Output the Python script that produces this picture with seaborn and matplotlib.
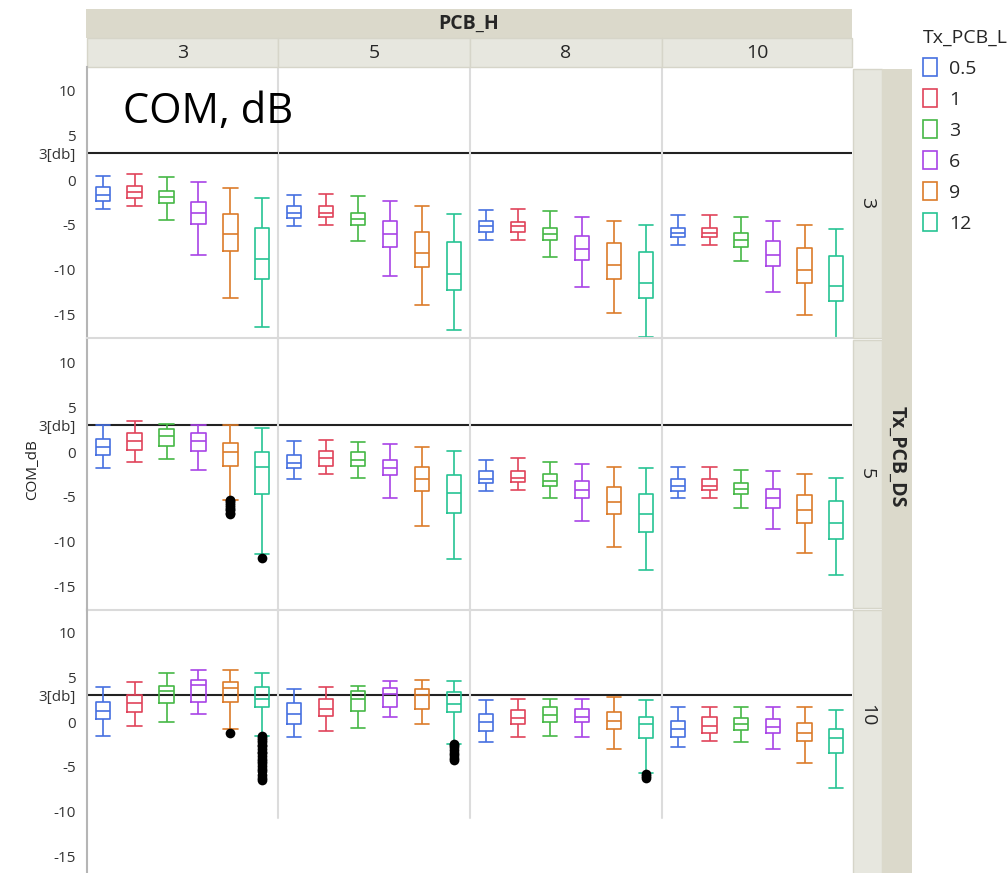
import numpy as np
import pandas as pd
import seaborn as sns
import matplotlib.pyplot as plt
from matplotlib.patches import Rectangle

# Facet levels
pcb_h = ["3", "5", "8", "10"]
tx_pcb_ds = ["3", "5", "10"]
tx_pcb_l = ["0.5", "1", "3", "6", "9", "12"]
colors = ["#4670E0", "#E0435A", "#46B846", "#A843E6", "#DC7B2A", "#26C493"]

# Box summaries, per Tx_PCB_DS row.
# Each list: PCB_H 3,5,8,10 (6 Tx_PCB_L values each)
ds3_hi = [0.45, 0.71, 0.30, -0.22, -0.93, -2.0,
          -1.71, -1.60, -1.82, -2.30, -2.90, -3.79,
          -3.34, -3.19, -3.49, -4.09, -4.57, -5.01,
          -3.94, -3.94, -4.09, -4.57, -5.01, -5.46]
ds3_q3 = [-0.78, -0.63, -1.23, -2.45, -3.79, -5.35,
          -2.90, -2.86, -3.68, -4.57, -5.76, -6.95,
          -4.57, -4.72, -5.31, -6.20, -6.98, -8.02,
          -5.31, -5.31, -5.91, -6.80, -7.58, -8.47]
ds3_med = [-1.67, -1.37, -1.93, -3.64, -6.05, -8.77,
           -3.68, -3.68, -4.38, -6.05, -8.14, -10.44,
           -5.16, -5.16, -6.05, -7.73, -9.51, -11.48,
           -5.91, -5.85, -6.65, -8.32, -9.99, -11.78]
ds3_q1 = [-2.30, -2.00, -2.56, -4.87, -7.88, -11.03,
          -4.27, -4.12, -5.01, -7.43, -9.70, -12.22,
          -5.76, -5.76, -6.65, -8.92, -11.03, -13.15,
          -6.35, -6.35, -7.43, -9.55, -11.48, -13.45]
ds3_lo = [-3.19, -2.90, -4.42, -8.32, -13.11, -16.42,
          -5.16, -5.01, -6.84, -10.74, -13.89, -16.75,
          -6.65, -6.65, -8.62, -11.92, -14.78, -17.50,
          -7.28, -7.28, -9.06, -12.52, -15.08, -17.57]

ds5_hi = [2.97, 3.45, 3.15, 2.97, 2.97, 2.72,
          1.18, 1.37, 1.07, 0.89, 0.59, 0.14,
          -0.90, -0.64, -1.08, -1.38, -1.68, -1.82,
          -1.68, -1.68, -1.97, -2.12, -2.42, -2.86]
ds5_q3 = [1.48, 2.11, 2.52, 2.07, 1.04, 0.0,
          -0.34, 0.14, -0.04, -0.93, -1.68, -2.60,
          -2.16, -2.12, -2.46, -3.20, -3.94, -4.72,
          -3.05, -3.05, -3.50, -4.09, -4.83, -5.46]
ds5_med = [0.59, 1.22, 1.78, 1.18, 0.0, -1.68,
           -1.23, -0.71, -0.90, -1.82, -3.01, -4.54,
           -3.05, -2.90, -3.20, -4.24, -5.61, -6.95,
           -3.79, -3.79, -4.09, -5.13, -6.51, -7.88]
ds5_q1 = [-0.38, 0.26, 0.70, 0.07, -1.56, -4.72,
          -1.82, -1.56, -1.56, -2.60, -4.39, -6.80,
          -3.50, -3.35, -3.79, -5.13, -6.95, -8.88,
          -4.39, -4.24, -4.68, -6.21, -7.88, -9.70]
ds5_lo = [-1.82, -1.08, -0.78, -1.97, -5.32, -11.41,
          -3.01, -2.42, -2.86, -5.13, -8.29, -11.93,
          -4.39, -4.24, -5.13, -7.69, -10.55, -13.12,
          -5.13, -5.13, -6.21, -8.62, -11.30, -13.75]

ds10_hi = [3.93, 4.41, 5.45, 5.75, 5.75, 5.45,
           3.63, 3.93, 4.07, 4.56, 4.71, 4.56,
           2.44, 2.59, 2.59, 2.59, 2.74, 2.44,
           1.66, 1.66, 1.66, 1.66, 1.66, 1.36]
ds10_q3 = [2.25, 3.03, 4.07, 4.71, 4.41, 3.93,
           2.14, 2.55, 3.44, 3.78, 3.63, 3.33,
           0.92, 1.36, 1.66, 1.51, 1.07, 0.62,
           0.17, 0.62, 0.47, 0.32, -0.12, -0.72]
ds10_med = [1.25, 2.14, 3.48, 4.11, 3.81, 2.55,
            0.92, 1.47, 2.55, 3.18, 3.03, 1.99,
            0.03, 0.47, 0.77, 0.62, 0.17, -0.27,
            -0.72, -0.42, -0.27, -0.57, -1.20, -1.79]
ds10_q1 = [0.36, 1.07, 2.14, 2.29, 2.29, 1.73,
           -0.16, 0.73, 1.18, 1.66, 1.47, 1.07,
           -1.01, -0.27, 0.03, 0.03, -0.75, -1.79,
           -1.65, -1.20, -0.90, -1.20, -2.09, -3.47]
ds10_lo = [-1.50, -0.46, 0.03, 0.92, -0.75, -1.50,
           -1.68, -1.05, -0.61, 0.62, -0.16, -2.39,
           -2.24, -1.65, -1.50, -1.65, -2.98, -5.73,
           -2.83, -2.09, -2.24, -2.98, -4.51, -7.37]

# Outlier points (Tx_PCB_DS, PCB_H, Tx_PCB_L)
out_ds5_h3_l9 = [-5.3, -5.5, -5.7, -5.9, -6.1, -6.3, -6.5, -6.8, -6.95]
out_ds5_h3_l12 = [-11.75]
out_ds10_h3_l9 = [-1.2]
out_ds10_h3_l12 = [-1.6, -1.8, -2.0, -2.2, -2.5, -2.7, -3.0, -3.3, -3.5, -3.8,
                   -4.1, -4.3, -4.6, -4.9, -5.2, -5.5, -5.9, -6.2, -6.5]
out_ds10_h5_l12 = [-2.4, -2.6, -2.8, -3.1, -3.4, -3.7, -4.0, -4.2]
out_ds10_h8_l12 = [-5.8, -6.0, -6.2]

stats = {
    "3": (ds3_lo, ds3_q1, ds3_med, ds3_q3, ds3_hi),
    "5": (ds5_lo, ds5_q1, ds5_med, ds5_q3, ds5_hi),
    "10": (ds10_lo, ds10_q1, ds10_med, ds10_q3, ds10_hi),
}
rows = []
for ds, arrs in stats.items():
    for i, vals in enumerate(zip(*arrs)):
        for v in vals:
            rows.append((ds, pcb_h[i // 6], tx_pcb_l[i % 6], v))
df = pd.DataFrame(rows, columns=["Tx_PCB_DS", "PCB_H", "Tx_PCB_L", "COM_dB"])

outliers = [("5", "3", "9", out_ds5_h3_l9), ("5", "3", "12", out_ds5_h3_l12),
            ("10", "3", "9", out_ds10_h3_l9), ("10", "3", "12", out_ds10_h3_l12),
            ("10", "5", "12", out_ds10_h5_l12), ("10", "8", "12", out_ds10_h8_l12)]
out_df = pd.DataFrame([(ds, h, l, v) for ds, h, l, vs in outliers for v in vs],
                      columns=["Tx_PCB_DS", "PCB_H", "Tx_PCB_L", "COM_dB"])

sns.set_style("white")
plt.rcParams["font.family"] = ["Open Sans", "DejaVu Sans"]

W, H = 1008, 873
fig = plt.figure(figsize=(W / 100, H / 100), dpi=100)

col_x = [87, 278, 470, 662, 852]
row_y = [67, 339, 609]
row_h = 271
strip_dark = "#dbd9cb"
strip_light = "#e7e7df"


def add_rect(x0, y0, x1, y1, color, edge="none"):
    fig.add_artist(Rectangle((x0 / W, 1 - y1 / H), (x1 - x0) / W, (y1 - y0) / H,
                             transform=fig.transFigure, facecolor=color,
                             edgecolor=edge, lw=1))


pal = dict(zip(tx_pcb_l, colors))
legend_ax = None
for r, ds in enumerate(tx_pcb_ds):
    for c, h in enumerate(pcb_h):
        ax = fig.add_axes([col_x[c] / W, 1 - (row_y[r] + row_h) / H,
                           (col_x[c + 1] - col_x[c]) / W, row_h / H])
        ax.set_facecolor("none")
        sub = df[(df.Tx_PCB_DS == ds) & (df.PCB_H == h)]
        show_leg = (r == 0 and c == 0)
        sns.boxplot(data=sub, x="Tx_PCB_L", y="COM_dB", hue="Tx_PCB_L",
                    order=tx_pcb_l, hue_order=tx_pcb_l, palette=pal,
                    fill=False, width=0.46, whis=np.inf, showfliers=False,
                    linewidth=1.2, capwidths=0.46, legend=show_leg, ax=ax)
        osub = out_df[(out_df.Tx_PCB_DS == ds) & (out_df.PCB_H == h)]
        if len(osub):
            sns.stripplot(data=osub, x="Tx_PCB_L", y="COM_dB", order=tx_pcb_l,
                          jitter=False, color="black", size=7, ax=ax, zorder=5)
        if show_leg:
            legend_ax = ax
        ax.axhline(3, color="#222222", lw=1.5, zorder=1)
        ax.set_xlim(-0.5, 5.5)
        ax.set_ylim(-17.6, 12.6)
        ax.set_xlabel("")
        ax.set_ylabel("")
        ax.set_xticks([])
        for s in ["top", "right"]:
            ax.spines[s].set_visible(False)
        ax.spines["bottom"].set_color("#dadada")
        ax.spines["bottom"].set_linewidth(1.5)
        if c == 0:
            ax.spines["left"].set_color("#b5b5b5")
            ax.spines["left"].set_linewidth(1.5)
            ax.set_yticks([-15, -10, -5, 0, 3, 5, 10])
            ax.set_yticklabels(["-15", "-10", "-5", "0", "3[db]", "5", "10"])
            ax.tick_params(axis="y", length=6, width=1, color="#9a9a9a",
                           labelcolor="#333333", labelsize=11, pad=2)
        else:
            ax.spines["left"].set_color("#dcdcdc")
            ax.spines["left"].set_linewidth(1.5)
            ax.set_yticks([])
            if r == 2:
                ax.spines["left"].set_visible(False)
                ax.plot([0, 0], [(880 - 818) / row_h, 1], transform=ax.transAxes,
                        color="#dcdcdc", lw=1.5, clip_on=False)
        if r == 0 and c == 0:
            ax.set_zorder(5)
            ax.text(0.64, 7.6, "COM, dB", fontsize=30, va="center", ha="left",
                    color="black", zorder=10)

sns.move_legend(legend_ax, "upper left", bbox_to_anchor=(905 / W, 1 - 11 / H),
                bbox_transform=fig.transFigure, frameon=False, title="Tx_PCB_L",
                fontsize=14, title_fontsize=14, handlelength=0.75, handleheight=1.0,
                labelspacing=0.6, handletextpad=0.6, alignment="left")

# column strips
add_rect(86, 9, 852, 38, strip_dark)
fig.text(469 / W, 1 - 24 / H, "PCB_H", fontsize=14, fontweight="bold",
         ha="center", va="center")
for c, h in enumerate(pcb_h):
    add_rect(col_x[c], 38, col_x[c + 1], 67, strip_light, edge="#d6d5c9")
    fig.text((col_x[c] + col_x[c + 1]) / 2 / W, 1 - 53 / H, h, fontsize=14,
             ha="center", va="center")

# row strips
row_spans = [(69, 338), (340, 608), (610, 880)]
row_label_y = [203, 474, 715]
for (y0, y1), ds, ly in zip(row_spans, tx_pcb_ds, row_label_y):
    add_rect(853, y0, 882, y1, strip_light, edge="#d6d5c9")
    fig.text(867 / W, 1 - ly / H, ds, fontsize=14, rotation=-90,
             ha="center", va="center")
add_rect(882, 69, 912, 880, strip_dark)
fig.text(897 / W, 1 - 457 / H, "Tx_PCB_DS", fontsize=14, fontweight="bold",
         rotation=-90, ha="center", va="center")

fig.text(33 / W, 1 - 470 / H, "COM_dB", fontsize=11, rotation=90,
         ha="center", va="center", color="#222222")

fig.savefig("out.png", dpi=100)
